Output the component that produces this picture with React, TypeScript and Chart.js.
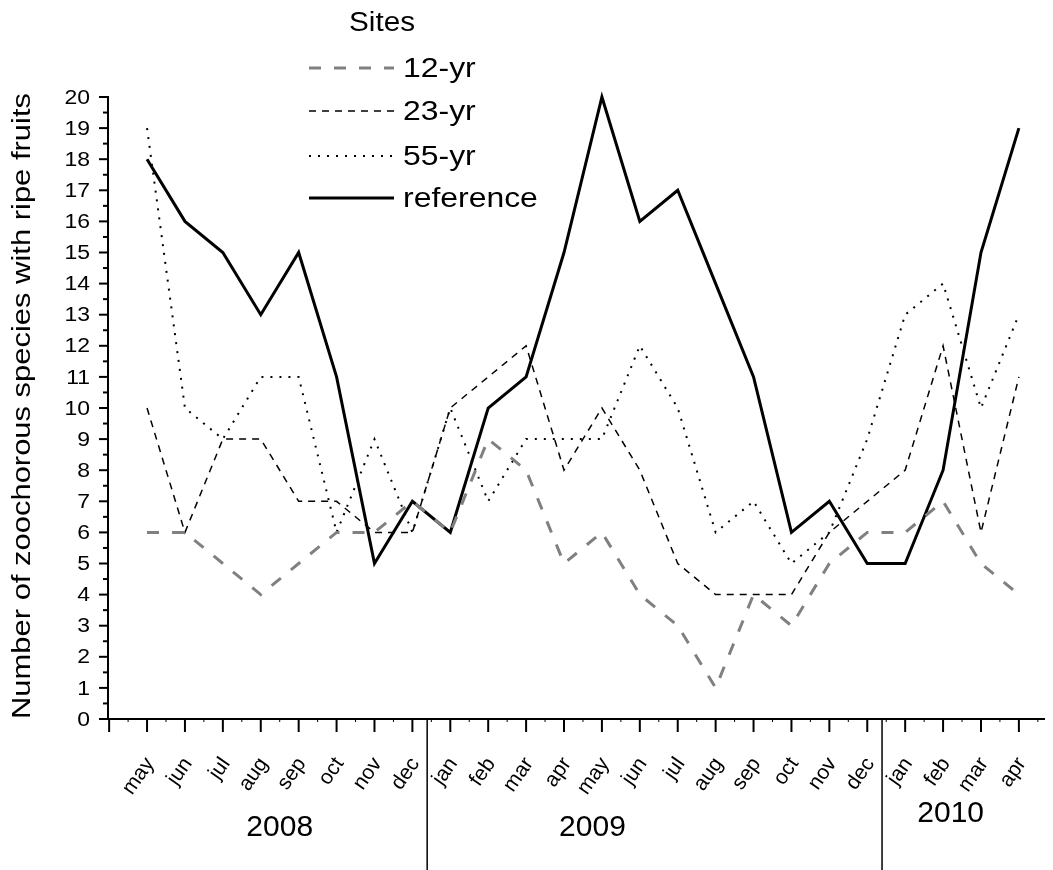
import React, { useEffect, useRef } from "react";
import { Chart, registerables } from "chart.js";

Chart.register(...registerables);

const months = ["may","jun","jul","aug","sep","oct","nov","dec","jan","feb","mar","apr","may","jun","jul","aug","sep","oct","nov","dec","jan","feb","mar","apr"];
const yr12 = [6,6,5,4,5,6,6,7,6,9,8,5,6,4,3,1,4,3,5,6,6,7,5,4];
const yr23 = [10,6,9,9,7,7,6,6,10,11,12,8,10,8,5,4,4,4,6,7,8,12,6,11];
const yr55 = [19,10,9,11,11,6,9,6,10,7,9,9,9,12,10,6,7,5,6,9,13,14,10,13];
const reference = [18,16,15,13,15,11,5,7,6,10,11,15,20,16,17,14,11,6,7,5,5,8,15,19];
const yTicks = [0,1,2,3,4,5,6,7,8,9,10,11,12,13,14,15,16,17,18,19,20];
const years = ["2008","2009","2010"];
const yearPos = [3.5, 11.75, 21.2];
const yearBoundaries = [7.39, 19.39];
const seriesNames = ["12-yr","23-yr","55-yr","reference"];

const FONT = "'Liberation Sans', Arial, Helvetica, sans-serif";

const styles = [
  { color: "#808080", width: 3, dash: [12, 13] },
  { color: "#000000", width: 1.5, dash: [7, 6] },
  { color: "#000000", width: 2, dash: [2, 7] },
  { color: "#000000", width: 3, dash: [] as number[] },
];

function drawText(ctx: CanvasRenderingContext2D, text: string, x: number, y: number, size: number, sx: number, align: CanvasTextAlign, baseline: CanvasTextBaseline, rot = 0) {
  ctx.save();
  ctx.translate(x, y);
  if (rot) ctx.rotate(rot);
  ctx.scale(sx, 1);
  ctx.font = `${size}px ${FONT}`;
  ctx.fillStyle = "#000";
  ctx.textAlign = align;
  ctx.textBaseline = baseline;
  ctx.fillText(text, 0, 0);
  ctx.restore();
}

const decorPlugin = {
  id: "decor",
  afterDraw(chart: any) {
    const { ctx, chartArea, scales } = chart;
    const xs = scales.x;
    const ys = scales.y;
    const left = chartArea.left;
    const right = chartArea.right;
    const y0 = ys.getPixelForValue(0);
    const yTop = ys.getPixelForValue(20);
    const H = chart.height;
    ctx.save();
    ctx.strokeStyle = "#000";
    ctx.setLineDash([]);
    ctx.lineCap = "butt";
    // y axis
    ctx.lineWidth = 2;
    ctx.beginPath();
    ctx.moveTo(left, yTop - 1);
    ctx.lineTo(left, y0);
    ctx.stroke();
    // x axis
    ctx.beginPath();
    ctx.moveTo(left - 1, y0);
    ctx.lineTo(right, y0);
    ctx.stroke();
    // y ticks
    for (const v of yTicks) {
      const py = ys.getPixelForValue(v);
      ctx.lineWidth = 2;
      ctx.beginPath();
      ctx.moveTo(left - 9, py);
      ctx.lineTo(left, py);
      ctx.stroke();
      drawText(ctx, String(v), left - 18, py + 1, 20.5, 1.12, "right", "middle");
      if (v < 20) {
        const pm = ys.getPixelForValue(v + 0.5);
        ctx.beginPath();
        ctx.moveTo(left - 5, pm);
        ctx.lineTo(left, pm);
        ctx.stroke();
      }
    }
    // x ticks
    for (let i = -1; i < months.length; i++) {
      const px = xs.getPixelForValue(i);
      ctx.lineWidth = 2;
      ctx.beginPath();
      ctx.moveTo(px, y0);
      ctx.lineTo(px, y0 + 13);
      ctx.stroke();
      const pm = xs.getPixelForValue(i + 0.5);
      ctx.lineWidth = 1;
      ctx.beginPath();
      ctx.moveTo(pm, y0);
      ctx.lineTo(pm, y0 + 3);
      ctx.stroke();
    }
    months.forEach((m, i) => {
      const px = xs.getPixelForValue(i);
      drawText(ctx, m, px + 3, y0 + 41, 21, 1, "right", "middle", (-55 * Math.PI) / 180);
    });
    // year separators
    ctx.lineWidth = 1.5;
    for (const b of yearBoundaries) {
      const px = xs.getPixelForValue(b);
      ctx.beginPath();
      ctx.moveTo(px, y0 - 1);
      ctx.lineTo(px, H);
      ctx.stroke();
    }
    years.forEach((yr, i) => {
      const px = xs.getPixelForValue(yearPos[i]);
      drawText(ctx, yr, px, i === 2 ? 806 : 820, 30, 1, "center", "middle");
    });
    // y title
    drawText(ctx, "Number of zoochorous species with ripe fruits", 15, 398, 26, 1.19, "center", "middle", -Math.PI / 2);
    // legend
    drawText(ctx, "Sites", 374, 16, 27, 1.1, "center", "middle");
    const rows = [60, 103, 148, 190];
    seriesNames.forEach((n, i) => {
      const st = styles[i];
      ctx.strokeStyle = st.color;
      ctx.lineWidth = st.width;
      ctx.setLineDash(st.dash);
      ctx.beginPath();
      ctx.moveTo(301, rows[i]);
      ctx.lineTo(386, rows[i]);
      ctx.stroke();
      ctx.setLineDash([]);
      drawText(ctx, n, 395, rows[i] + 1, 28, 1.14, "left", "middle");
    });
    ctx.restore();
  },
};

export default function App() {
  const ref = useRef<HTMLCanvasElement | null>(null);
  useEffect(() => {
    document.documentElement.style.overflow = "hidden";
    document.body.style.overflow = "hidden";
    const canvas = ref.current!;
    const all = [yr12, yr23, yr55, reference];
    const chart = new Chart(canvas, {
      type: "line",
      data: {
        datasets: all.map((vals, k) => ({
          label: seriesNames[k],
          data: vals.map((v, i) => ({ x: i, y: v })),
          borderColor: styles[k].color,
          borderWidth: styles[k].width,
          borderDash: styles[k].dash,
          pointRadius: 0,
          tension: 0,
          fill: false,
          clip: false as any,
          borderCapStyle: "butt" as const,
          borderJoinStyle: "miter" as const,
        })),
      },
      options: {
        responsive: false,
        animation: false,
        devicePixelRatio: 1,
        layout: { padding: { left: 100, top: 89, right: 0, bottom: 151 } },
        plugins: { legend: { display: false }, tooltip: { enabled: false } },
        scales: {
          x: { type: "linear", min: -1.03, max: 23.9, display: false },
          y: { type: "linear", min: 0, max: 20, display: false },
        },
      },
      plugins: [decorPlugin],
    });
    return () => chart.destroy();
  }, []);
  return (
    <div style={{ width: 1045, height: 862 }}>
      <canvas ref={ref} width={1045} height={862} style={{ display: "block" }} />
    </div>
  );
}
